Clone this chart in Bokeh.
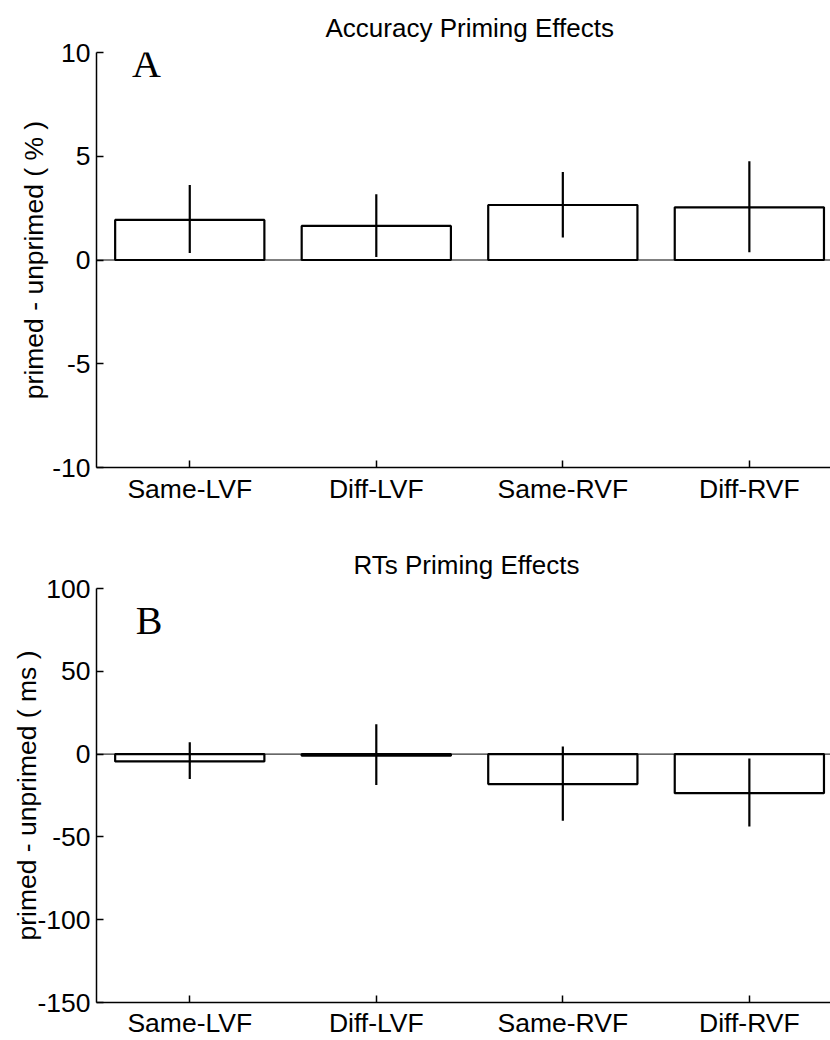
from bokeh.plotting import figure
from bokeh.models import FixedTicker, Span, Label
from bokeh.layouts import column
from bokeh.embed import file_html
from bokeh.resources import INLINE

categories = ["Same-LVF", "Diff-LVF", "Same-RVF", "Diff-RVF"]
positions = [1, 2, 3, 4]

acc_mean = [1.93, 1.64, 2.65, 2.54]
acc_low = [0.34, 0.14, 1.09, 0.37]
acc_high = [3.61, 3.17, 4.24, 4.76]
acc_ticks = [-10, -5, 0, 5, 10]

rt_mean = [-4.4, -1.0, -18.1, -23.6]
rt_low = [-15.1, -18.7, -40.3, -43.7]
rt_high = [7.1, 18.1, 4.6, -2.6]
rt_ticks = [-150, -100, -50, 0, 50, 100]

SANS = "Liberation Sans"
SERIF = "Liberation Serif"


def make_panel(title, title_offset, title_standoff, ylabel, letter, letter_xy,
               means, low, high, yr, ticks, height, b_top, b_bottom,
               ylab_standoff, xlab_standoff):
    p = figure(width=830, height=height, x_range=(0.5, 4.435), y_range=yr,
               output_backend="svg", toolbar_location=None,
               min_border_left=96, min_border_right=0,
               min_border_top=b_top, min_border_bottom=b_bottom,
               background_fill_color="white", border_fill_color="white")
    p.outline_line_color = None
    p.xgrid.grid_line_color = None
    p.ygrid.grid_line_color = None

    p.title.text = title
    p.title.align = "left"
    p.title.offset = title_offset
    p.title.standoff = title_standoff
    p.title.text_font = SANS
    p.title.text_font_size = "26px"
    p.title.text_font_style = "normal"
    p.title.text_color = "black"

    p.add_layout(Span(location=0, dimension="width", line_color="black", line_width=1))
    p.vbar(x=positions, width=0.8, top=means, bottom=0, fill_color="white",
           line_color="black", line_width=2.2)
    p.segment(x0=positions, y0=low, x1=positions, y1=high,
              line_color="black", line_width=2.2)

    p.add_layout(Label(x=letter_xy[0], y=letter_xy[1], text=letter,
                       text_font=SERIF, text_font_size="40px",
                       text_baseline="middle", text_color="black"))

    for ax in (p.xaxis[0], p.yaxis[0]):
        ax.axis_line_color = "black"
        ax.axis_line_width = 1.5
        ax.major_tick_line_color = "black"
        ax.major_tick_line_width = 1.5
        ax.major_tick_in = 7
        ax.major_tick_out = 0
        ax.minor_tick_line_color = None
        ax.major_label_text_font = SANS
        ax.major_label_text_font_size = "26.5px"
        ax.major_label_text_color = "black"

    p.yaxis.ticker = FixedTicker(ticks=ticks)
    p.yaxis.major_label_overrides = {t: str(t) for t in ticks}
    p.yaxis.major_label_standoff = 6
    p.yaxis.axis_label = ylabel
    p.yaxis.axis_label_text_font = SANS
    p.yaxis.axis_label_text_font_size = "26.5px"
    p.yaxis.axis_label_text_font_style = "normal"
    p.yaxis.axis_label_text_color = "black"
    p.yaxis.axis_label_standoff = ylab_standoff

    p.xaxis.ticker = FixedTicker(ticks=positions)
    p.xaxis.major_label_overrides = {pos: cat for pos, cat in zip(positions, categories)}
    p.xaxis.major_label_standoff = xlab_standoff
    return p


p1 = make_panel("Accuracy Priming Effects", 229, 19, "primed - unprimed ( % )",
                "A", (0.69, 9.45),
                acc_mean, acc_low, acc_high, (-10, 10), acc_ticks,
                520, 52, 53, 0, 6)
p2 = make_panel("RTs Priming Effects", 257, 18, "primed - unprimed ( ms )",
                "B", (0.71, 80.6),
                rt_mean, rt_low, rt_high, (-150, 100), rt_ticks,
                520, 68, 38, -8, 5)

layout = column(p1, p2)
open("out.html", "w").write(file_html(layout, INLINE))
